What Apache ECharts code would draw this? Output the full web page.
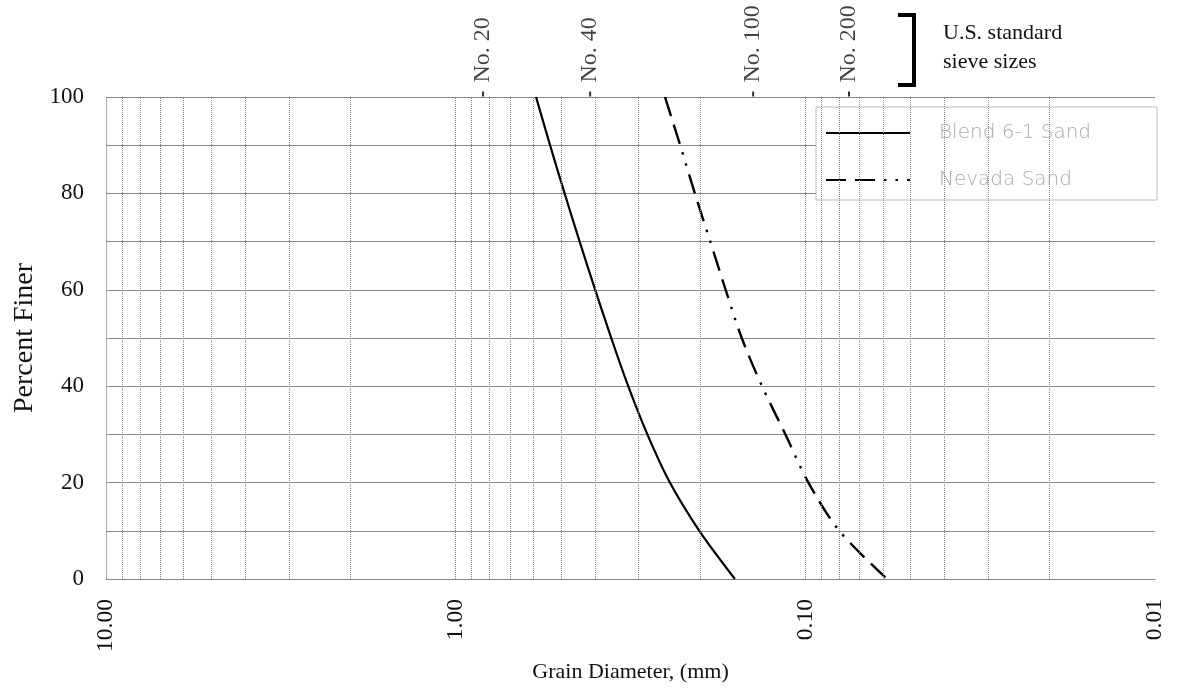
<!DOCTYPE html>
<html>
<head>
<meta charset="utf-8">
<script src="https://cdn.jsdelivr.net/npm/echarts@6/dist/echarts.min.js"></script>
<style>
  html, body { margin: 0; padding: 0; background: #fff; }
  #chart { width: 1178px; height: 695px; }
</style>
</head>
<body>
<div id="chart"></div>
<script>
// Percent finer levels shared by both gradation curves
const percentFiner = [100, 90, 80, 70, 60, 50, 40, 30, 20, 10, 0];
// Grain diameters (mm) at each percent-finer level
const blendDiam  = [0.589, 0.537, 0.488, 0.442, 0.399, 0.359, 0.321, 0.283, 0.244, 0.201, 0.159];
const nevadaDiam = [0.252, 0.228, 0.207, 0.187, 0.169, 0.152, 0.133, 0.114, 0.098, 0.080, 0.0584];
const seriesNames = ['Blend 6-1 Sand', 'Nevada Sand'];

// Sieve openings marked along the top edge
const sieveLabels = ['No. 20', 'No. 40', 'No. 100', 'No. 200'];
const sieveDiam   = [0.835, 0.4125, 0.141, 0.075];

// Log-cycle grid lines (mm)
const logGrid = [9, 8, 7, 6, 5, 4, 3, 2, 1,
                 0.9, 0.8, 0.7, 0.6, 0.5, 0.4, 0.3, 0.2, 0.1,
                 0.09, 0.08, 0.07, 0.06, 0.05, 0.04, 0.03, 0.02];

const serif = 'Liberation Serif';
const pairs = (xs) => xs.map((d, i) => [d, percentFiner[i]]);

const chart = echarts.init(document.getElementById('chart'));
chart.setOption({
  animation: false,
  backgroundColor: '#fff',
  textStyle: { fontFamily: serif },
  grid: { left: 106, right: 23, top: 97, bottom: 116 },
  xAxis: {
    type: 'log', logBase: 10, min: 0.01, max: 10, inverse: true,
    name: 'Grain Diameter, (mm)', nameLocation: 'middle', nameGap: 82,
    nameTextStyle: { fontFamily: serif, fontSize: 22, color: '#111' },
    axisLine: { show: true, lineStyle: { color: '#888', width: 1 } },
    axisTick: { show: false },
    splitLine: { show: false },
    axisLabel: {
      rotate: 90, margin: 20, fontFamily: serif, fontSize: 23.5, color: '#111',
      formatter: (v) => Number(v).toFixed(2)
    }
  },
  yAxis: {
    type: 'value', min: 0, max: 100, interval: 10,
    name: 'Percent Finer', nameLocation: 'middle', nameGap: 64,
    nameTextStyle: { fontFamily: serif, fontSize: 28, color: '#111' },
    axisLine: { show: true, lineStyle: { color: '#999', type: 'dotted' } },
    axisTick: { show: false },
    splitLine: { show: true, lineStyle: { color: '#8a8a8a', width: 1 } },
    axisLabel: {
      margin: 22, fontFamily: serif, fontSize: 23, color: '#111',
      formatter: (v) => (v % 20 === 0 ? String(v) : '')
    }
  },
  legend: {
    orient: 'vertical', left: 816, top: 107,
    padding: [16, 66, 10, 9], itemGap: 27,
    itemWidth: 84, itemHeight: 14,
    backgroundColor: '#fff', borderColor: '#bbb', borderWidth: 1,
    itemStyle: { opacity: 0 },
    textStyle: {
      fontFamily: 'DejaVu Sans', fontWeight: 200, fontSize: 20, color: '#aaa',
      padding: [0, 0, 0, 24]
    },
    data: seriesNames
  },
  series: [
    {
      name: seriesNames[0], type: 'line', data: pairs(blendDiam),
      symbol: 'none', smooth: 0.3,
      itemStyle: { color: '#000' },
      lineStyle: { color: '#000', width: 2.2 },
      markLine: {
        silent: true, symbol: 'none', label: { show: false },
        lineStyle: { color: '#8a8a8a', type: 'dotted', width: 1 },
        data: logGrid.map((v) => ({ xAxis: v }))
      },
      z: 3
    },
    {
      name: seriesNames[1], type: 'line', data: pairs(nevadaDiam),
      symbol: 'none', smooth: 0.3,
      itemStyle: { color: '#000' },
      lineStyle: { color: '#000', width: 2.4, type: [20, 9, 20, 9, 2.5, 9, 2.5, 9], cap: 'butt' },
      z: 3
    },
    {
      name: 'sieves', type: 'scatter', clip: false,
      data: sieveDiam.map((d, i) => ({ value: [d, 100], name: sieveLabels[i] })),
      symbol: 'rect', symbolSize: [2, 5], symbolOffset: [0, -3],
      itemStyle: { color: '#000' },
      label: {
        show: true, position: 'top', distance: 9, rotate: 90,
        align: 'left', verticalAlign: 'middle',
        formatter: (p) => p.name,
        fontFamily: serif, fontSize: 24, color: '#111'
      },
      z: 4
    }
  ],
  graphic: [
    {
      type: 'polyline', silent: true,
      shape: { points: [[898, 15], [914, 15], [914, 85], [898, 85]] },
      style: { stroke: '#000', lineWidth: 4, fill: null }
    },
    {
      type: 'text', left: 943, top: 19, silent: true,
      style: {
        text: 'U.S. standard\nsieve sizes', fontFamily: serif, fontSize: 22,
        lineHeight: 29, fill: '#111'
      }
    }
  ]
});
</script>
</body>
</html>
